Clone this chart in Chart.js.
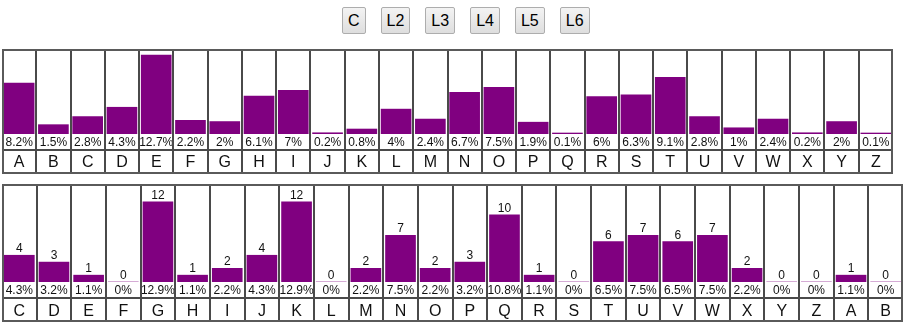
<!DOCTYPE html>
<html><head><meta charset="utf-8">
<script src="https://cdn.jsdelivr.net/npm/chart.js@4/dist/chart.umd.min.js"></script>
<style>
html,body{margin:0;padding:0;background:#fff;width:912px;height:331px;overflow:hidden;}
#btns{position:absolute;left:342px;top:7px;height:27px;white-space:nowrap;font-size:0}
.b{display:inline-block;box-sizing:border-box;height:27px;padding:0 5px;margin-right:15px;border:1px solid #adadad;border-radius:2px;background:linear-gradient(#f3f3f3,#dedede);font:16px 'Liberation Sans',Arial,sans-serif;line-height:25px;color:#000;text-align:center;vertical-align:top}
canvas{position:absolute;left:0}
</style></head><body>
<div id="btns"></div>
<canvas id="c1" width="912" height="140" style="top:40px"></canvas>
<canvas id="c2" width="912" height="151" style="top:180px"></canvas>
<script>
// ---- data ----
const buttons = ['C','L2','L3','L4','L5','L6'];
const letters1 = ['A','B','C','D','E','F','G','H','I','J','K','L','M','N','O','P','Q','R','S','T','U','V','W','X','Y','Z'];
const freq1 = [8.2,1.5,2.8,4.3,12.7,2.2,2,6.1,7,0.2,0.8,4,2.4,6.7,7.5,1.9,0.1,6,6.3,9.1,2.8,1,2.4,0.2,2,0.1];
const letters2 = ['C','D','E','F','G','H','I','J','K','L','M','N','O','P','Q','R','S','T','U','V','W','X','Y','Z','A','B'];
const counts2 = [4,3,1,0,12,1,2,4,12,0,2,7,2,3,10,1,0,6,7,6,7,2,0,0,1,0];
const pct2 = [4.3,3.2,1.1,0,12.9,1.1,2.2,4.3,12.9,0,2.2,7.5,2.2,3.2,10.8,1.1,0,6.5,7.5,6.5,7.5,2.2,0,0,1.1,0];

const bdiv = document.getElementById('btns');
buttons.forEach(t => { const s = document.createElement('span'); s.className = 'b'; s.textContent = t; bdiv.appendChild(s); });

const FONT = '"Liberation Sans", Arial, sans-serif';

const tablePlugin = {
  id: 'tbl',
  afterDatasetsDraw(chart, args, o) {
    const ctx = chart.ctx, xs = chart.scales.x, area = chart.chartArea;
    const meta = chart.getDatasetMeta(0);
    const n = chart.data.labels.length;
    ctx.save();
    ctx.fillStyle = '#111';
    ctx.textAlign = 'center';
    ctx.textBaseline = 'alphabetic';
    for (let i = 0; i < n; i++) {
      const x = xs.getPixelForValue(i);
      ctx.font = '12px ' + FONT;
      ctx.fillText(o.pcts[i] + '%', x, area.bottom + 12);
      if (o.counts) ctx.fillText(String(o.counts[i]), x, meta.data[i].y - 3);
      ctx.font = '16px ' + FONT;
      ctx.fillText(chart.data.labels[i], x, o.letterBase);
    }
    // borders
    ctx.strokeStyle = '#4a4a4a';
    ctx.lineWidth = 2;
    const L = Math.round(area.left), R = Math.round(area.right);
    ctx.beginPath();
    for (let i = 1; i < n; i++) {
      const bx = Math.round((xs.getPixelForValue(i - 1) + xs.getPixelForValue(i)) / 2);
      ctx.moveTo(bx, o.top); ctx.lineTo(bx, o.bottom);
    }
    ctx.moveTo(L, o.sep); ctx.lineTo(R, o.sep);
    ctx.stroke();
    ctx.strokeStyle = '#5a5a5a';
    ctx.strokeRect(L + 1, o.top + 1, R - L - 2, o.bottom - o.top - 2);
    ctx.restore();
  }
};

function make(id, labels, values, pad, opts, minLen) {
  return new Chart(document.getElementById(id), {
    type: 'bar',
    data: { labels: labels, datasets: [{ data: values, backgroundColor: '#800080', borderWidth: 0, barThickness: 30, minBarLength: minLen }] },
    options: {
      responsive: false, animation: false, events: [],
      layout: { padding: pad },
      plugins: { legend: { display: false }, tooltip: { enabled: false }, tbl: opts },
      scales: {
        x: { display: false },
        y: { display: false, min: 0, max: 13.5 }
      }
    },
    plugins: [tablePlugin]
  });
}

make('c1', letters1, freq1, { left: 2, right: 19, top: 10, bottom: 46 },
  { pcts: freq1, counts: null, top: 9, sep: 110, bottom: 134, letterBase: 126.5 }, 1);
make('c2', letters2, pct2, { left: 2, right: 9, top: 18, bottom: 49 },
  { pcts: pct2, counts: counts2, top: 4, sep: 118, bottom: 142, letterBase: 136 }, 0);
</script>
</body></html>
